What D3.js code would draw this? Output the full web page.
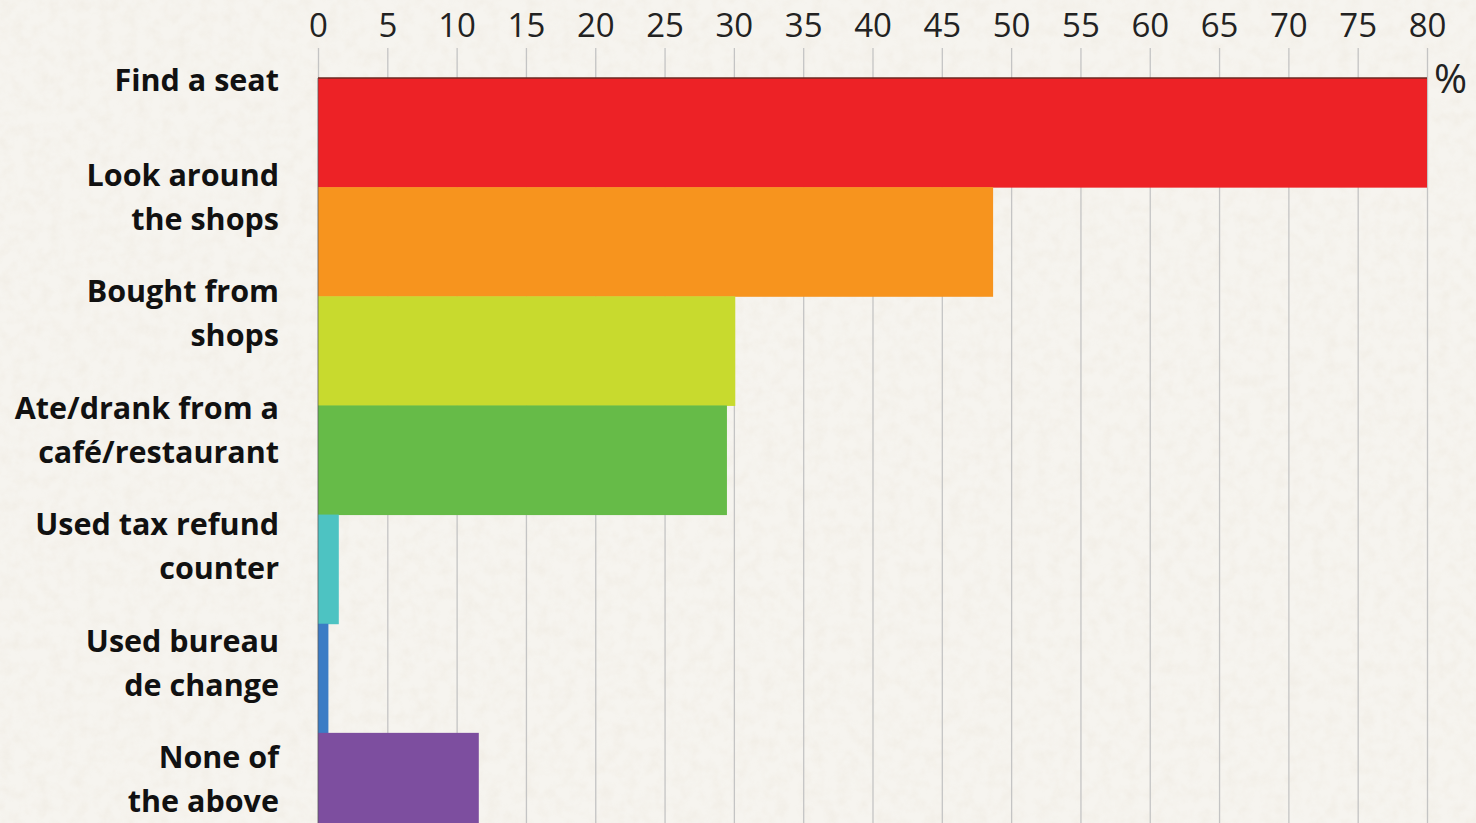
<!DOCTYPE html>
<html>
<head>
<meta charset="utf-8">
<script src="https://cdn.jsdelivr.net/npm/d3@7"></script>
<style>
  html, body { margin: 0; padding: 0; background: #f5f3ee; }
  svg { display: block; }
</style>
</head>
<body>
<div id="chart"></div>
<script>
var categories = ['Find a seat', 'Look around the shops', 'Bought from shops',
  'Ate/drank from a café/restaurant', 'Used tax refund counter',
  'Used bureau de change', 'None of the above'];
var labelLines = [['Find a seat'], ['Look around', 'the shops'], ['Bought from', 'shops'],
  ['Ate/drank from a', 'café/restaurant'], ['Used tax refund', 'counter'],
  ['Used bureau', 'de change'], ['None of', 'the above']];
var values = [80, 48.7, 30.1, 29.5, 1.5, 0.75, 11.6];
var barColors = ['#ed2226', '#f7941e', '#c8da2e', '#66bb48', '#4dc3c2', '#3b7cc5', '#7d4e9f'];
var tickValues = [0, 5, 10, 15, 20, 25, 30, 35, 40, 45, 50, 55, 60, 65, 70, 75, 80];

var width = 1476, height = 823;
var tickFont = '"Open Sans", Lato, sans-serif';
var labelFont = '"Open Sans", Lato, sans-serif';

var svg = d3.select('#chart').append('svg')
  .attr('width', width)
  .attr('height', height);

// paper texture
var defs = svg.append('defs');
var filter = defs.append('filter').attr('id', 'paper')
  .attr('x', 0).attr('y', 0).attr('width', '100%').attr('height', '100%');
filter.append('feTurbulence')
  .attr('type', 'fractalNoise')
  .attr('baseFrequency', 0.08)
  .attr('numOctaves', 3)
  .attr('seed', 4);
filter.append('feColorMatrix')
  .attr('type', 'matrix')
  .attr('values', '0 0 0 0 0.80  0 0 0 0 0.74  0 0 0 0 0.64  0 0 0 -1.6 1.0');

svg.append('rect')
  .attr('width', width).attr('height', height)
  .attr('fill', '#f6f4ef');
svg.append('rect')
  .attr('width', width).attr('height', height)
  .attr('filter', 'url(#paper)')
  .attr('opacity', 0.3);

var x = d3.scaleLinear().domain([0, 80]).range([318, 1427]);
var y = d3.scaleBand().domain(categories).range([78, 842]).paddingInner(0);
var labelY = d3.scalePoint().domain(categories).range([80, 779]);

// gridlines
var grid = svg.append('g')
  .attr('transform', 'translate(0,48)')
  .call(d3.axisTop(x).tickValues(tickValues).tickSize(-(height - 48)).tickFormat(''));
grid.select('.domain').remove();
grid.selectAll('line').attr('stroke', '#c4c4c4').attr('stroke-width', 1.3);

// tick labels
var axis = svg.append('g')
  .attr('transform', 'translate(0,37)')
  .call(d3.axisTop(x).tickValues(tickValues).tickSize(0).tickPadding(0));
axis.select('.domain').remove();
axis.selectAll('text')
  .attr('font-family', tickFont)
  .attr('font-size', 33)
  .attr('fill', '#222');

svg.append('text')
  .attr('x', 1434).attr('y', 93)
  .attr('font-family', tickFont)
  .attr('font-size', 40)
  .attr('fill', '#222')
  .text('%');

// bars
svg.append('g').selectAll('rect')
  .data(categories)
  .join('rect')
  .attr('x', x(0))
  .attr('y', function (d) { return y(d); })
  .attr('width', function (d, i) { return x(values[i]) - x(0); })
  .attr('height', y.bandwidth() + 0.5)
  .attr('fill', function (d, i) { return barColors[i]; });

// dark edge at the top of the plot and along the baseline
svg.append('line')
  .attr('x1', x(0)).attr('x2', x(values[0]))
  .attr('y1', y(categories[0])).attr('y2', y(categories[0]))
  .attr('stroke', '#6b2a22').attr('stroke-width', 1.5);
svg.append('line')
  .attr('x1', x(0)).attr('x2', x(0))
  .attr('y1', y(categories[0])).attr('y2', height)
  .attr('stroke', '#555').attr('stroke-width', 1.2).attr('opacity', 0.6);

// category labels
var labels = svg.append('g').selectAll('text')
  .data(categories)
  .join('text')
  .attr('text-anchor', 'end')
  .attr('font-family', labelFont)
  .attr('font-weight', 'bold')
  .attr('font-size', 30.5)
  .attr('fill', '#111');

labels.each(function (d, i) {
  var lines = labelLines[i];
  var lineH = 44;
  var first = labelY(d) + 11 - (lines.length - 1) * lineH / 2;
  d3.select(this).selectAll('tspan')
    .data(lines)
    .join('tspan')
    .attr('x', 279)
    .attr('y', function (t, j) { return first + j * lineH; })
    .text(function (t) { return t; });
});
</script>
</body>
</html>
